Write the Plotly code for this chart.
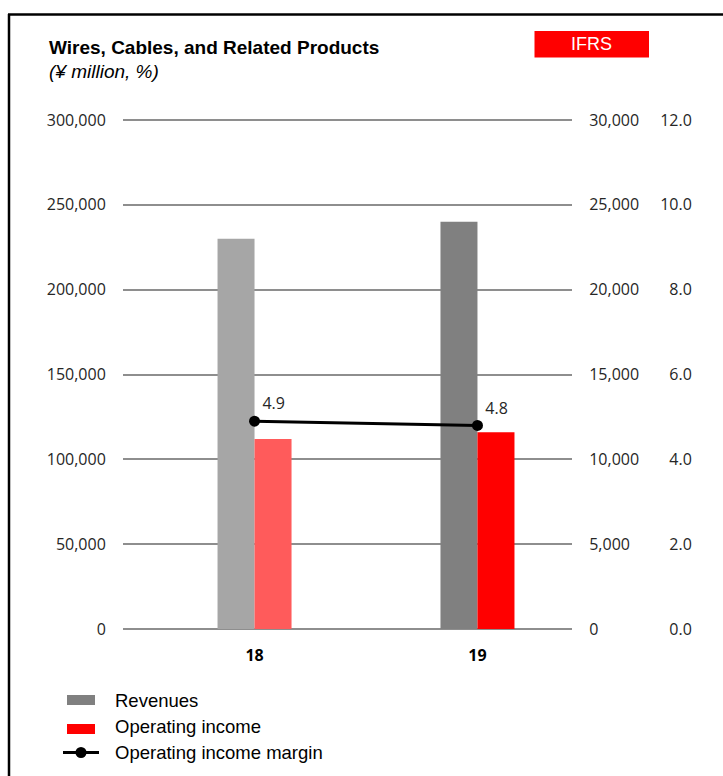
import plotly.graph_objects as go

# Data (¥ million, %)
years = ["18", "19"]
revenues = [230000, 240000]
operating_income = [11200, 11600]
op_margin = [4.9, 4.8]
margin_labels = ["4.9", "4.8"]

rev_colors = ["#a6a6a6", "#808080"]
oi_colors = ["#ff5b5b", "#ff0000"]

legend_names = ["Revenues", "Operating income", "Operating income margin"]
legend_colors = ["#808080", "#ff0000", "#000000"]

W, H = 723, 776
L, R, T, B = 123, 10, 118, 145
plot_right_px = 572
paper_w = W - L - R
paper_h = H - T - B


def px_x(px):
    return (px - L) / paper_w


def px_y(py):
    return (H - B - py) / paper_h


bar_w = 0.166
tick_font = dict(family="Open Sans", size=16, color="#262626")
text_family = "Liberation Sans, Arial"

fig = go.Figure()

fig.add_trace(go.Bar(
    x=years, y=revenues, yaxis="y", name=legend_names[0],
    marker=dict(color=rev_colors, line=dict(width=0)),
    width=bar_w, offset=-bar_w, hoverinfo="x+y",
))
fig.add_trace(go.Bar(
    x=years, y=operating_income, yaxis="y2", name=legend_names[1],
    marker=dict(color=oi_colors, line=dict(width=0)),
    width=bar_w, offset=0, hoverinfo="x+y",
))
fig.add_trace(go.Scatter(
    x=years, y=op_margin, yaxis="y3", name=legend_names[2],
    mode="lines+markers+text", text=margin_labels, textposition="top right",
    textfont=dict(family="Open Sans", size=16, color="#262626"),
    line=dict(color="#000000", width=3), marker=dict(color="#000000", size=11),
))

# small range padding (~2 px) so the 0 and top gridlines are drawn
pad = 2 / 513
fig.update_layout(
    width=W, height=H,
    margin=dict(l=L, r=R, t=T, b=B, autoexpand=False),
    paper_bgcolor="white", plot_bgcolor="white",
    barmode="overlay", showlegend=False,
    xaxis=dict(
        domain=[0, px_x(plot_right_px)],
        type="category", range=[-0.59, 1.424],
        showgrid=False, showline=False, zeroline=False,
        ticks="outside", ticklen=10, tickcolor="rgba(0,0,0,0)",
        tickfont=dict(family="Open Sans", size=16, color="#000000", weight="bold"),
    ),
    yaxis=dict(
        range=[-300000 * pad, 300000 * (1 + pad)],
        tickvals=[0, 50000, 100000, 150000, 200000, 250000, 300000],
        tickformat=",d", showgrid=True, gridcolor="#8e8e8e", gridwidth=1.5,
        zeroline=False, showline=False,
        ticks="outside", ticklen=13, tickcolor="rgba(0,0,0,0)",
        tickfont=tick_font,
    ),
    yaxis2=dict(
        range=[-30000 * pad, 30000 * (1 + pad)],
        tickvals=[0, 5000, 10000, 15000, 20000, 25000, 30000],
        tickformat=",d", overlaying="y", side="right", anchor="x",
        showgrid=False, zeroline=False, showline=False,
        ticks="outside", ticklen=13, tickcolor="rgba(0,0,0,0)",
        tickfont=tick_font,
    ),
    yaxis3=dict(
        range=[-12 * pad, 12 * (1 + pad)],
        tickvals=[0, 2, 4, 6, 8, 10, 12], tickformat=".1f",
        overlaying="y", side="left", anchor="free", position=1.0,
        showgrid=False, zeroline=False, showline=False,
        ticks="outside", ticklen=18, tickcolor="rgba(0,0,0,0)",
        tickfont=tick_font,
    ),
)

# Frame lines (top and left)
fig.add_shape(type="line", xref="paper", yref="paper",
              x0=px_x(8), x1=px_x(W + 5), y0=px_y(14.5), y1=px_y(14.5),
              line=dict(color="#000000", width=2.5))
fig.add_shape(type="line", xref="paper", yref="paper",
              x0=px_x(9), x1=px_x(9), y0=px_y(14), y1=px_y(H + 5),
              line=dict(color="#000000", width=2.5))

# IFRS badge
fig.add_shape(type="rect", xref="paper", yref="paper",
              x0=px_x(534.5), x1=px_x(649), y0=px_y(57.5), y1=px_y(31),
              fillcolor="#ff0000", line=dict(width=0))
fig.add_annotation(xref="paper", yref="paper", x=px_x(591.5), y=px_y(44),
                   text="IFRS", showarrow=False, xanchor="center", yanchor="middle",
                   font=dict(family=text_family, size=18, color="#ffffff"))

# Titles
fig.add_annotation(xref="paper", yref="paper", x=px_x(47), y=px_y(47),
                   text="<b>Wires, Cables, and Related Products</b>", showarrow=False,
                   xanchor="left", yanchor="middle",
                   font=dict(family=text_family, size=19, color="#000000"))
fig.add_annotation(xref="paper", yref="paper", x=px_x(47), y=px_y(71),
                   text="<i>(¥ million, %)</i>", showarrow=False,
                   xanchor="left", yanchor="middle",
                   font=dict(family=text_family, size=19, color="#000000"))

# Legend block
icon_x0, icon_x1 = 67, 95
fig.add_shape(type="rect", xref="paper", yref="paper",
              x0=px_x(icon_x0), x1=px_x(icon_x1), y0=px_y(705), y1=px_y(695),
              fillcolor=legend_colors[0], line=dict(width=0))
fig.add_shape(type="rect", xref="paper", yref="paper",
              x0=px_x(icon_x0), x1=px_x(icon_x1), y0=px_y(734), y1=px_y(724),
              fillcolor=legend_colors[1], line=dict(width=0))
fig.add_shape(type="line", xref="paper", yref="paper",
              x0=px_x(63), x1=px_x(99), y0=px_y(752.5), y1=px_y(752.5),
              line=dict(color=legend_colors[2], width=3))
fig.add_shape(type="circle", xref="paper", yref="paper",
              x0=px_x(75.5), x1=px_x(86.5), y0=px_y(758), y1=px_y(747),
              fillcolor=legend_colors[2], line=dict(width=0))
for name, yc in zip(legend_names, [701, 726.5, 752]):
    fig.add_annotation(xref="paper", yref="paper", x=px_x(113), y=px_y(yc),
                       text=name, showarrow=False, xanchor="left", yanchor="middle",
                       font=dict(family=text_family, size=18.5, color="#000000"))

fig.write_html("out.html")
